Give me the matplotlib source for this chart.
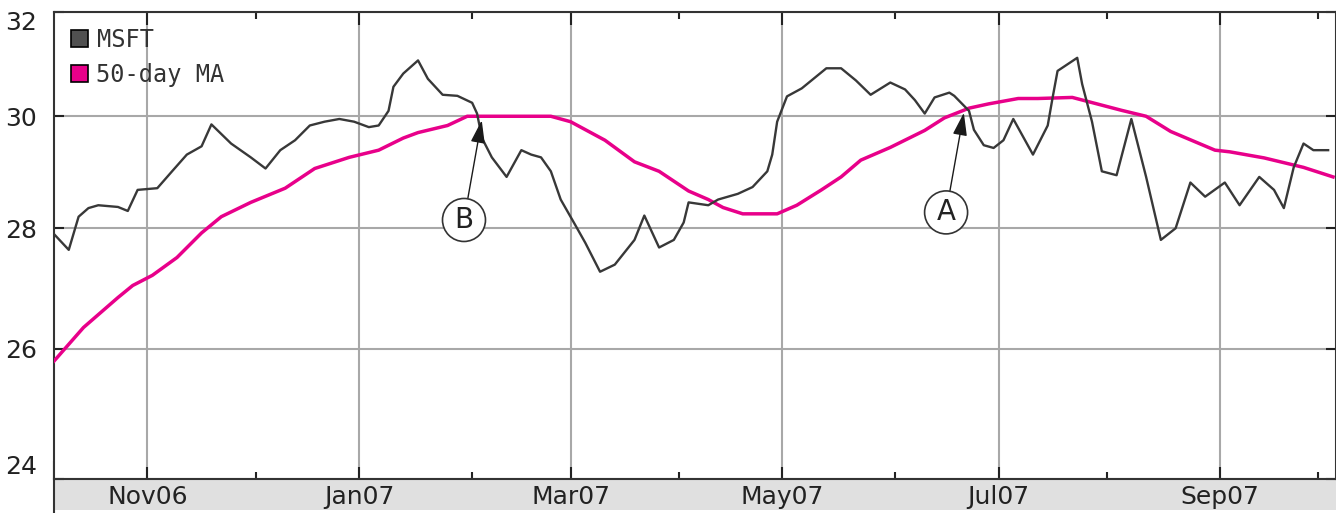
import numpy as np
import matplotlib.pyplot as plt
from matplotlib.patches import Patch, Rectangle
from matplotlib.lines import Line2D
from matplotlib.ticker import NullLocator

START = '2006-10-05'
X_SPAN = 260.6  # weekdays shown

msft_dates = ['2006-10-05', '2006-10-10', '2006-10-12', '2006-10-16', '2006-10-18',
              '2006-10-24', '2006-10-26', '2006-10-30', '2006-11-03', '2006-11-08',
              '2006-11-13', '2006-11-16', '2006-11-20', '2006-11-24', '2006-11-30',
              '2006-12-05', '2006-12-08', '2006-12-13', '2006-12-18', '2006-12-21',
              '2006-12-26', '2006-12-29', '2007-01-03', '2007-01-05', '2007-01-09',
              '2007-01-10', '2007-01-12', '2007-01-17', '2007-01-19', '2007-01-24',
              '2007-01-29', '2007-02-01', '2007-02-02', '2007-02-05', '2007-02-07',
              '2007-02-12', '2007-02-15', '2007-02-19', '2007-02-21', '2007-02-23',
              '2007-02-27', '2007-03-02', '2007-03-06', '2007-03-09', '2007-03-14',
              '2007-03-20', '2007-03-22', '2007-03-27', '2007-03-30', '2007-04-03',
              '2007-04-04', '2007-04-10', '2007-04-12', '2007-04-16', '2007-04-18',
              '2007-04-23', '2007-04-26', '2007-04-27', '2007-04-30', '2007-05-02',
              '2007-05-07', '2007-05-14', '2007-05-17', '2007-05-22', '2007-05-25',
              '2007-05-31', '2007-06-05', '2007-06-07', '2007-06-11', '2007-06-13',
              '2007-06-18', '2007-06-19', '2007-06-22', '2007-06-25', '2007-06-27',
              '2007-06-29', '2007-07-03', '2007-07-05', '2007-07-11', '2007-07-16',
              '2007-07-17', '2007-07-18', '2007-07-24', '2007-07-25', '2007-07-27',
              '2007-07-31', '2007-08-03', '2007-08-08', '2007-08-13', '2007-08-16',
              '2007-08-21', '2007-08-24', '2007-08-29', '2007-09-04', '2007-09-07',
              '2007-09-13', '2007-09-18', '2007-09-20', '2007-09-24', '2007-09-26',
              '2007-09-28', '2007-10-03']
msft_close = [27.90, 27.63, 28.20, 28.35, 28.40,
              28.37, 28.30, 28.67, 28.70, 29.00,
              29.30, 29.45, 29.85, 29.50, 29.25,
              29.05, 29.38, 29.56, 29.83, 29.90,
              29.95, 29.90, 29.80, 29.83, 30.10,
              30.55, 30.80, 31.05, 30.70, 30.40,
              30.38, 30.25, 30.05, 29.60, 29.25,
              28.90, 29.38, 29.30, 29.25, 29.00,
              28.50, 28.05, 27.75, 27.26, 27.38,
              27.80, 28.22, 27.67, 27.80, 28.10,
              28.45, 28.40, 28.50, 28.55, 28.60,
              28.72, 29.00, 29.30, 29.90, 30.37,
              30.52, 30.90, 30.90, 30.67, 30.40,
              30.63, 30.50, 30.30, 30.05, 30.35,
              30.44, 30.38, 30.10, 29.75, 29.47,
              29.42, 29.56, 29.95, 29.30, 29.83,
              30.35, 30.85, 31.10, 30.60, 29.90,
              29.00, 28.93, 29.95, 28.90, 27.80,
              28.00, 28.80, 28.55, 28.80, 28.40,
              28.90, 28.67, 28.35, 29.07, 29.50,
              29.38, 29.38]

ma_dates = ['2006-10-05', '2006-10-13', '2006-10-24', '2006-10-27', '2006-11-02',
            '2006-11-09', '2006-11-16', '2006-11-22', '2006-11-30', '2006-12-11',
            '2006-12-19', '2006-12-28', '2007-01-05', '2007-01-12', '2007-01-17',
            '2007-01-25', '2007-01-31', '2007-02-05', '2007-02-23', '2007-03-01',
            '2007-03-12', '2007-03-20', '2007-03-27', '2007-04-04', '2007-04-10',
            '2007-04-13', '2007-04-19', '2007-04-30', '2007-05-04', '2007-05-11',
            '2007-05-17', '2007-05-23', '2007-05-31', '2007-06-11', '2007-06-15',
            '2007-06-22', '2007-06-28', '2007-07-06', '2007-07-12', '2007-07-23',
            '2007-07-30', '2007-08-06', '2007-08-13', '2007-08-20', '2007-08-31',
            '2007-09-05', '2007-09-14', '2007-09-26', '2007-10-04']
ma_values = [25.80, 26.34, 26.83, 27.03, 27.20,
             27.50, 27.92, 28.20, 28.45, 28.70,
             29.05, 29.25, 29.38, 29.60, 29.70,
             29.83, 30.00, 30.00, 30.00, 29.90,
             29.56, 29.17, 29.00, 28.65, 28.50,
             28.36, 28.25, 28.25, 28.40, 28.67,
             28.90, 29.20, 29.43, 29.74, 29.97,
             30.15, 30.23, 30.33, 30.33, 30.35,
             30.23, 30.11, 30.00, 29.72, 29.38,
             29.35, 29.24, 29.07, 28.90]

month_starts = ['2006-11-01', '2006-12-01', '2007-01-01', '2007-02-01', '2007-03-01',
                '2007-04-01', '2007-05-01', '2007-06-01', '2007-07-01', '2007-08-01',
                '2007-09-01', '2007-10-01']
month_labels = ['Nov06', 'Jan07', 'Mar07', 'May07', 'Jul07', 'Sep07']
y_ticks = [24, 26, 28, 30, 32]

crossings = [('B', '2007-02-05', 29.95), ('A', '2007-06-21', 30.09)]

MSFT_COLOR = '#383838'
MA_COLOR = '#e8008a'
GRID = '#a8a8a8'


def wd(dates):
    # the chart gives every weekday the same width
    return np.busday_count(START, np.array(dates, dtype='datetime64[D]'))


fig = plt.figure(figsize=(13.36, 5.13), dpi=100)
ax = fig.add_axes([54 / 1336, 1 - 478.5 / 513, 1 - 54 / 1336, (478.5 - 11.5) / 513])

ax.plot(wd(ma_dates), ma_values, color=MA_COLOR, lw=2.5, zorder=3)
ax.plot(wd(msft_dates), msft_close, color=MSFT_COLOR, lw=1.7, zorder=4)

ax.set_yscale('log')
ax.set_ylim(24, 32)
ax.set_yticks(y_ticks)
ax.set_yticklabels([str(v) for v in y_ticks])
ax.yaxis.set_minor_locator(NullLocator())
ax.set_xlim(0, X_SPAN)

xm = wd(month_starts)
ax.set_xticks(xm[0::2])
ax.set_xticklabels(month_labels)
ax.set_xticks(xm[1::2], minor=True)

ax.grid(True, which='major', color=GRID, lw=1.5)
ax.set_axisbelow(True)
ax.tick_params(axis='both', which='both', direction='in', top=True, right=True,
               color='#222222', width=1.5, labelsize=18, labelcolor='#222222')
ax.tick_params(axis='x', which='major', length=9, pad=5)
ax.tick_params(axis='x', which='minor', length=5)
ax.tick_params(axis='y', length=7, pad=12)
for sp in ax.spines.values():
    sp.set_color('#333333')
    sp.set_linewidth(1.5)

ylabels = ax.get_yticklabels()
ylabels[0].set_va('bottom')
ylabels[-1].set_va('top')

# grey strip under the axis that holds the month labels
fig.add_artist(Rectangle((54 / 1336, 3 / 513), 1, 31 / 513, transform=fig.transFigure,
                         fc='#e0e0e0', ec='none', zorder=-1))
fig.add_artist(Line2D([54 / 1336, 54 / 1336], [0, 0.1], transform=fig.transFigure,
                      color='#333333', lw=1.5, zorder=-1))

handles = [Patch(fc='#505050', ec='black', lw=1.2), Patch(fc=MA_COLOR, ec='black', lw=1.2)]
ax.legend(handles, ['MSFT', '50-day MA'], loc='upper left', bbox_to_anchor=(0.0, 1.0),
          frameon=False, prop={'family': 'DejaVu Sans Mono', 'size': 17},
          labelcolor='#333333', handlelength=0.75, handleheight=0.75,
          handletextpad=0.35, labelspacing=0.45, borderaxespad=0.3, borderpad=0.4)

for letter, d, price in crossings:
    ax.annotate(letter, xy=(wd([d])[0], price), xytext=(-18, -101),
                textcoords='offset pixels', ha='center', va='center',
                fontsize=20, color='#222222',
                bbox=dict(boxstyle='circle,pad=0.27', fc='white', ec='#333333', lw=1.2),
                arrowprops=dict(arrowstyle='-|>,head_length=0.7,head_width=0.22',
                                color='#1a1a1a', lw=1.0, shrinkA=0, shrinkB=1),
                zorder=6)

fig.savefig('out.png', dpi=100)
